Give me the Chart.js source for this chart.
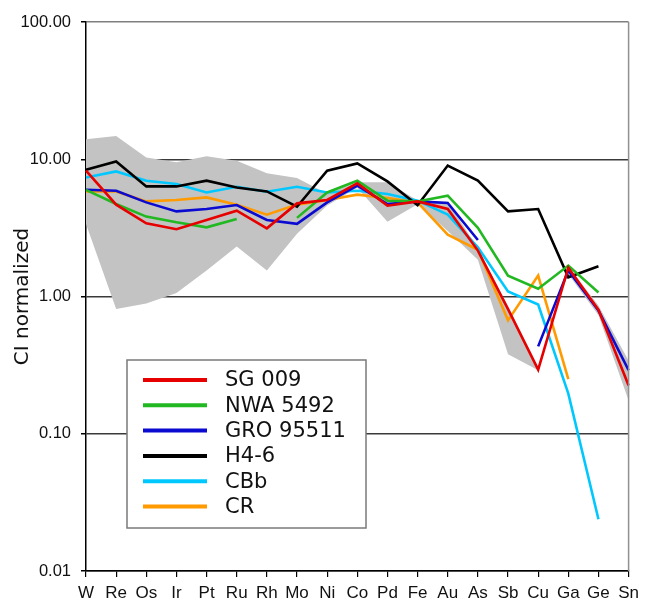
<!DOCTYPE html>
<html>
<head>
<meta charset="utf-8">
<script src="https://cdn.jsdelivr.net/npm/chart.js@4"></script>
<style>
    html, body { margin: 0; padding: 0; background: #fff; }
    #wrap { width: 645px; height: 602px; }
</style>
</head>
<body>
<div id="wrap"><canvas id="ciChart" width="645" height="602"></canvas></div>
<script>
// ========================================
// CI-normalized abundance patterns
// ========================================

const elements = ['W', 'Re', 'Os', 'Ir', 'Pt', 'Ru', 'Rh', 'Mo', 'Ni', 'Co', 'Pd', 'Fe', 'Au', 'As', 'Sb', 'Cu', 'Ga', 'Ge', 'Sn'];
const yTicks = [0.01, 0.1, 1, 10, 100];

const sg009    = [8.25, 4.67, 3.41, 3.09, 3.61, 4.22, 3.14, 4.77, 5.05, 6.67, 4.59, 4.93, 4.34, 2.16, 0.81, 0.293, 1.62, 0.80, 0.225];
const nwa5492  = [5.98, 4.72, 3.82, 3.47, 3.19, 3.67, null, 3.74, 5.73, 6.98, 4.99, 4.93, 5.43, 3.16, 1.42, 1.14, 1.68, 1.07, null];
const gro95511 = [6.0, 5.9, 4.85, 4.17, 4.34, 4.64, 3.61, 3.38, 4.85, 6.42, 4.72, 4.93, 4.8, 2.58, null, 0.433, 1.55, 0.79, 0.29];
const h46      = [8.39, 9.64, 6.34, 6.34, 6.98, 6.23, 5.83, 4.51, 8.25, 9.32, 6.9, 4.62, 9.0, 6.98, 4.17, 4.34, 1.38, 1.66, null];
const cbb      = [7.37, 8.15, 6.98, 6.6, 5.73, 6.31, 5.8, 6.31, 5.73, 5.9, 5.58, 4.99, 3.95, 2.28, 1.09, 0.875, 0.196, 0.0238, null];
const cr       = [5.83, 5.83, 4.93, 5.05, 5.27, 4.67, 3.95, 4.67, 5.05, 5.52, 5.22, 4.85, 2.82, 2.19, 0.67, 1.42, 0.25, null, null];

// grey range (two pieces, broken between Cu and Ga)
const rangeHighA = [14.0, 14.8, 10.3, 9.5, 10.5, 9.75, 7.9, 7.3, 5.6, 6.8, 6.8, 5.0, 4.9, 2.25, 0.85, 0.30, null, null, null];
const rangeLowA  = [3.38, 0.81, 0.89, 1.06, 1.55, 2.31, 1.55, 2.86, 4.6, 6.2, 3.5, 4.7, 3.0, 1.85, 0.38, 0.29, null, null, null];
const rangeHighB = [null, null, null, null, null, null, null, null, null, null, null, null, null, null, null, null, 1.65, 0.86, 0.34];
const rangeLowB  = [null, null, null, null, null, null, null, null, null, null, null, null, null, null, null, null, 1.45, 0.73, 0.175];

const seriesNames  = ['SG 009', 'NWA 5492', 'GRO 95511', 'H4-6', 'CBb', 'CR'];
const seriesData   = [sg009, nwa5492, gro95511, h46, cbb, cr];
const seriesColors = ['#e60000', '#22b822', '#0a0ad0', '#000000', '#00c8ff', '#ff9a00'];

const lineSet = (label, data, color) => ({
    label, data,
    borderColor: color,
    backgroundColor: color,
    borderWidth: 2.6,
    pointRadius: 0,
    tension: 0,
    spanGaps: false,
    fill: false
});

const rangeSet = (data, fill) => ({
    label: '',
    data,
    borderWidth: 0,
    borderColor: 'rgba(0,0,0,0)',
    backgroundColor: '#c3c3c3',
    pointRadius: 0,
    tension: 0,
    spanGaps: false,
    fill,
    order: 10
});

const datasets = seriesNames.map((n, i) => lineSet(n, seriesData[i], seriesColors[i]));
datasets.push(rangeSet(rangeHighA, false));
datasets.push(rangeSet(rangeLowA, '-1'));
datasets.push(rangeSet(rangeHighB, false));
datasets.push(rangeSet(rangeLowB, '-1'));

// Frame on the right + boxed legend inside the plot
const framePlugin = {
    id: 'frameAndLegend',
    afterDraw(chart) {
        const { ctx, chartArea: a } = chart;
        ctx.save();
        ctx.strokeStyle = '#909090';
        ctx.lineWidth = 1.5;
        ctx.beginPath();
        ctx.moveTo(a.right, a.top);
        ctx.lineTo(a.right, a.bottom);
        ctx.stroke();

        const bx = a.left + 41, by = 360, bw = 239, bh = 168;
        ctx.fillStyle = '#fff';
        ctx.fillRect(bx, by, bw, bh);
        ctx.strokeStyle = '#7a7a7a';
        ctx.lineWidth = 1.5;
        ctx.strokeRect(bx, by, bw, bh);

        ctx.font = '21px "DejaVu Sans", Verdana, sans-serif';
        ctx.textBaseline = 'middle';
        ctx.textAlign = 'left';
        seriesNames.forEach((n, i) => {
            const y = by + 20 + i * 25.3;
            ctx.strokeStyle = seriesColors[i];
            ctx.lineWidth = 4;
            ctx.beginPath();
            ctx.moveTo(bx + 16, y);
            ctx.lineTo(bx + 80, y);
            ctx.stroke();
            ctx.fillStyle = '#111';
            ctx.fillText(n, bx + 98, y + 1);
        });
        ctx.restore();
    }
};

new Chart(document.getElementById('ciChart'), {
    type: 'line',
    data: { labels: elements, datasets },
    options: {
        responsive: false,
        animation: false,
        layout: { padding: { top: 22, right: 13, left: 0, bottom: 0 } },
        plugins: {
            legend: { display: false },
            tooltip: { enabled: false }
        },
        scales: {
            x: {
                type: 'category',
                offset: false,
                afterFit: (s) => { s.height = 31; },
                border: { color: '#000', width: 1.5 },
                grid: { drawOnChartArea: false, drawTicks: true, tickLength: 6, tickColor: '#000', lineWidth: 1.2 },
                ticks: {
                    autoSkip: false,
                    maxRotation: 0,
                    padding: 6,
                    color: '#111',
                    font: { family: '"Liberation Sans", Arial, sans-serif', size: 17 }
                }
            },
            y: {
                type: 'logarithmic',
                min: 0.01,
                max: 100,
                afterFit: (s) => { s.width = 86; },
                afterBuildTicks: (s) => { s.ticks = yTicks.map(v => ({ value: v })); },
                border: { color: '#000', width: 1.5 },
                grid: {
                    drawTicks: true,
                    tickLength: 5,
                    tickColor: '#000',
                    lineWidth: 1.5,
                    color: (c) => (c.tick && c.tick.value === 100 ? '#808080' : '#3a3a3a')
                },
                ticks: {
                    padding: 10,
                    color: '#111',
                    font: { family: '"Liberation Sans", Arial, sans-serif', size: 16.5 },
                    callback: (v) => Number(v).toFixed(2)
                },
                title: {
                    display: true,
                    text: 'CI normalized',
                    color: '#111',
                    padding: { top: 11, bottom: 0 },
                    font: { family: '"DejaVu Sans", Verdana, sans-serif', size: 20 }
                }
            }
        }
    },
    plugins: [framePlugin]
});
</script>
</body>
</html>
